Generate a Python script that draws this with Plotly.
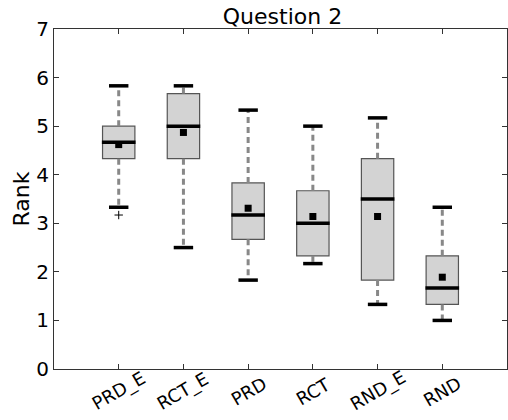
import plotly.graph_objects as go

categories = ["PRD_E", "RCT_E", "PRD", "RCT", "RND_E", "RND"]
lower_whisker = [3.33, 2.5, 1.83, 2.17, 1.33, 1.0]
q1 = [4.33, 4.33, 2.67, 2.33, 1.83, 1.33]
median = [4.67, 5.0, 3.17, 3.0, 3.5, 1.67]
q3 = [5.0, 5.67, 3.83, 3.67, 4.33, 2.33]
upper_whisker = [5.83, 5.83, 5.33, 5.0, 5.17, 3.33]
mean = [4.62, 4.87, 3.31, 3.14, 3.14, 1.89]
outlier_cat = ["PRD_E"]
outlier_val = [3.17]
y_ticks = [0, 1, 2, 3, 4, 5, 6, 7]

pos = list(range(1, len(categories) + 1))
BOX_W = 0.5
CAP_HW = 0.15
MED_HW = 0.26
FONT = "DejaVu Sans"

fig = go.Figure()

# boxes
fig.add_trace(go.Bar(
    x=pos, y=[b - a for a, b in zip(q1, q3)], base=q1, width=BOX_W,
    marker=dict(color="#d3d3d3", line=dict(color="#555555", width=1.2)),
    hoverinfo="skip", showlegend=False))

# whiskers
wx, wy = [], []
for p, lo, a, b, hi in zip(pos, lower_whisker, q1, q3, upper_whisker):
    wx += [p, p, None, p, p, None]
    wy += [b, hi, None, a, lo, None]
fig.add_trace(go.Scatter(x=wx, y=wy, mode="lines",
                         line=dict(color="#888888", width=3, dash="6px,4px"),
                         showlegend=False, hoverinfo="skip"))

# caps
cx, cy = [], []
for p, lo, hi in zip(pos, lower_whisker, upper_whisker):
    cx += [p - CAP_HW, p + CAP_HW, None, p - CAP_HW, p + CAP_HW, None]
    cy += [hi, hi, None, lo, lo, None]
fig.add_trace(go.Scatter(x=cx, y=cy, mode="lines",
                         line=dict(color="black", width=3.5),
                         showlegend=False, hoverinfo="skip"))

# medians
mx, my = [], []
for p, m in zip(pos, median):
    mx += [p - MED_HW, p + MED_HW, None]
    my += [m, m, None]
fig.add_trace(go.Scatter(x=mx, y=my, mode="lines",
                         line=dict(color="black", width=3.5),
                         showlegend=False, hoverinfo="skip"))

# means
fig.add_trace(go.Scatter(x=pos, y=mean, mode="markers",
                         marker=dict(symbol="square", color="black", size=7),
                         showlegend=False))

# outliers
fig.add_trace(go.Scatter(x=[pos[categories.index(c)] for c in outlier_cat], y=outlier_val,
                         mode="markers",
                         marker=dict(symbol="cross-thin", size=6,
                                     line=dict(color="black", width=1)),
                         showlegend=False))

# rotated category labels centred under their ticks
annotations = [
    dict(x=p, y=0, xref="x", yref="paper", text=c, showarrow=False,
         textangle=-30, xanchor="center", yanchor="middle", yshift=-22,
         font=dict(size=18, family=FONT, color="black"))
    for p, c in zip(pos, categories)
]

fig.update_layout(
    width=508, height=420,
    margin=dict(l=54, r=1, t=29, b=51, autoexpand=False),
    paper_bgcolor="white", plot_bgcolor="white",
    font=dict(family=FONT, color="black"),
    title=dict(text="Question 2", x=0.556, xanchor="center",
               yref="container", y=0.961, yanchor="middle",
               font=dict(size=22, family=FONT)),
    barmode="overlay",
    annotations=annotations,
)
fig.update_xaxes(
    range=[0, 7], tickvals=pos, showticklabels=False,
    showline=True, linecolor="#333333", linewidth=1, mirror="ticks",
    ticks="inside", ticklen=5, tickcolor="#333333", showgrid=False, zeroline=False,
    automargin=False)
fig.update_yaxes(
    range=[0, 7], tickvals=y_ticks,
    showline=True, linecolor="#333333", linewidth=1, mirror="ticks",
    ticks="inside", ticklen=5, tickcolor="#333333", showgrid=False, zeroline=False,
    automargin=False,
    tickfont=dict(size=20, family=FONT),
    title=dict(text="Rank", font=dict(size=22, family=FONT), standoff=0))

fig.write_html(
    "out.html",
    config={"displayModeBar": False},
    post_script="document.body.style.margin='0';document.body.style.overflow='hidden';",
)
